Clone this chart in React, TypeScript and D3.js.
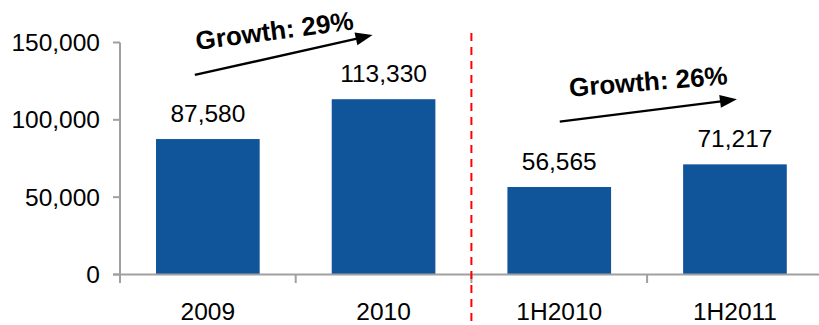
import React from "react";
import * as d3 from "d3";

const categories = ["2009", "2010", "1H2010", "1H2011"];
const values = [87580, 113330, 56565, 71217];
const yTicks = [0, 50000, 100000, 150000];
const growthLabels = ["Growth: 29%", "Growth: 26%"];
// arrow start/end levels in data units (from, to)
const arrowFromValues = [129000, 98800];
const arrowToValues = [154800, 113300];

const W = 819;
const H = 325;
const FONT = "'Liberation Sans', Arial, Helvetica, sans-serif";

export default function App() {
  const x = d3
    .scaleBand<string>()
    .domain(categories)
    .range([120, 120 + 4 * 175.7])
    .paddingInner(0.41)
    .paddingOuter(0.205);
  const step = x.step();
  const y = d3.scaleLinear().domain([0, 150000]).range([274.5, 42.5]);
  const fmt = d3.format(",");
  const axisColor = "#A0A0A0";
  const boundaries = categories.map((_, i) => 120 + i * step).concat([120 + 4 * step]);
  const divider = 120 + 2 * step;
  const cx = (c: string) => (x(c) as number) + x.bandwidth() / 2;

  const arrows = [
    { x1: cx("2009") - 13, x2: cx("2010") - 11, i: 0, dx: 2, dy: -25, rot: -7.5 },
    { x1: cx("1H2010") + 0.5, x2: cx("1H2011") + 2, i: 1, dx: 10, dy: -25, rot: -4.5 },
  ];

  const headLen = 17;
  const headHalf = 6.5;

  return (
    <svg width={W} height={H} style={{ position: "absolute", left: 0, top: 0 }} fontFamily={FONT}>
      {/* bars */}
      {categories.map((c, i) => (
        <rect key={c} x={x(c)} y={y(values[i])} width={x.bandwidth()} height={y(0) - y(values[i])} fill="#10559A" />
      ))}
      {/* y axis */}
      <line x1={120} x2={120} y1={y(150000)} y2={283} stroke={axisColor} strokeWidth={2} />
      {yTicks.map((t) => (
        <g key={t}>
          <line x1={113} x2={120} y1={y(t)} y2={y(t)} stroke={axisColor} strokeWidth={2} />
          <text x={100} y={y(t)} dy="0.35em" textAnchor="end" fontSize={24.5} fill="#000">
            {fmt(t)}
          </text>
        </g>
      ))}
      {/* x axis */}
      <line x1={113} x2={W} y1={y(0)} y2={y(0)} stroke={axisColor} strokeWidth={2} />
      {boundaries.map((b, i) => (
        <line key={i} x1={b} x2={b} y1={y(0)} y2={283} stroke={axisColor} strokeWidth={2} />
      ))}
      {categories.map((c) => (
        <text key={c} x={cx(c)} y={320} textAnchor="middle" fontSize={24.5} fill="#000">
          {c}
        </text>
      ))}
      {/* value labels */}
      {categories.map((c, i) => (
        <text key={c} x={cx(c)} y={y(values[i]) - 17.5} textAnchor="middle" fontSize={24.5} fill="#000">
          {fmt(values[i])}
        </text>
      ))}
      {/* divider */}
      <line x1={divider} x2={divider} y1={33} y2={321} stroke="#FF0000" strokeWidth={2} strokeDasharray="8,6" />
      {/* growth arrows */}
      {arrows.map((a) => {
        const y1 = y(arrowFromValues[a.i]);
        const y2 = y(arrowToValues[a.i]);
        const ang = Math.atan2(y2 - y1, a.x2 - a.x1);
        const ux = Math.cos(ang);
        const uy = Math.sin(ang);
        const bx = a.x2 - ux * headLen;
        const by = y2 - uy * headLen;
        const head = [
          [a.x2, y2],
          [bx - uy * headHalf, by + ux * headHalf],
          [bx + uy * headHalf, by - ux * headHalf],
        ];
        return (
          <g key={a.i}>
            <line x1={a.x1} y1={y1} x2={bx + ux * 1} y2={by + uy * 1} stroke="#000" strokeWidth={2.3} />
            <polygon points={head.map((p) => p.join(",")).join(" ")} fill="#000" />
            <text
              transform={`translate(${a.x1 + a.dx},${y1 + a.dy}) rotate(${a.rot})`}
              fontSize={26}
              fontWeight="bold"
              fill="#000"
            >
              {growthLabels[a.i]}
            </text>
          </g>
        );
      })}
    </svg>
  );
}
